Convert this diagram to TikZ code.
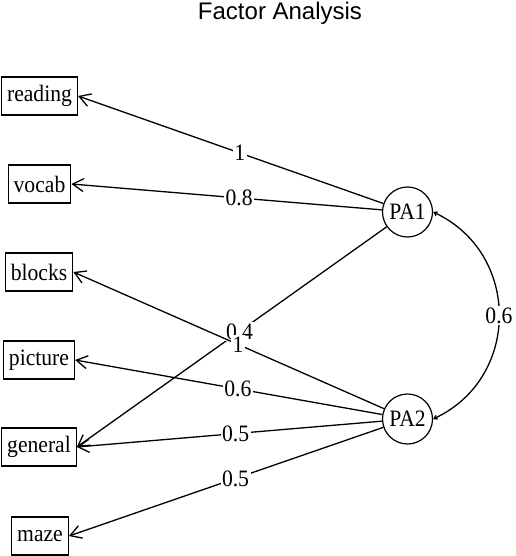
\documentclass[tikz,border=0pt]{standalone}
\usepackage{fontspec}
\setmainfont{Liberation Serif}[FakeStretch=0.92]
\newfontfamily\titlefont{Liberation Sans}
\usetikzlibrary{arrows.meta}
\tikzset{
  varbox/.style={draw, line width=1.2pt, rectangle, minimum height=38pt, inner xsep=5.5pt, inner ysep=0pt, font=\fontsize{23.5}{23.5}\selectfont},
  factor/.style={draw, line width=1.2pt, circle, minimum size=50pt, inner sep=0pt, font=\fontsize{23.5}{23.5}\selectfont},
  lab/.style={fill=white, inner sep=1.5pt, font=\fontsize{23.5}{23.5}\selectfont},
  load/.style={line width=1.3pt, -{Straight Barb[length=11pt,width=13pt,line width=1.3pt]}},
  corr/.style={line width=1.3pt, {Straight Barb[length=3pt,width=4pt]}-{Straight Barb[length=3pt,width=4pt]}},
}
\begin{document}
\begin{tikzpicture}[x=1pt,y=-1pt]
\useasboundingbox (0,0) rectangle (515,556);
\node[font=\titlefont\fontsize{24}{24}\selectfont] (title) at (280,13) {Factor Analysis};
\node[varbox] (reading) at (39.5,96) {reading};
\node[varbox] (vocab) at (39.5,184) {vocab};
\node[varbox] (blocks) at (39,272) {blocks};
\node[varbox] (picture) at (39,360) {picture};
\node[varbox] (general) at (39,447) {general};
\node[varbox] (maze) at (40,536) {maze};
\node[factor] (PA1) at (407.5,212) {PA1};
\node[factor] (PA2) at (407.5,419) {PA2};
\draw[load] (PA1) -- node[lab,pos=0.47] {1} (reading.east);
\draw[load] (PA1) -- node[lab,pos=0.46] {0.8} (vocab.east);
\draw[load] (PA1) -- node[lab,pos=0.475] {0.4} (general.east);
\draw[load] (PA2) -- node[lab,pos=0.47] {1} (blocks.east);
\draw[load] (PA2) -- node[lab,pos=0.47] {0.6} (picture.east);
\draw[load] (PA2) -- node[lab,pos=0.48] {0.5} (general.east);
\draw[load] (PA2) -- node[lab,pos=0.47] {0.5} (maze.east);
\draw[corr] (PA1.east) to[out=-25,in=25,looseness=1.2] node[lab] {0.6} (PA2.east);
\end{tikzpicture}
\end{document}
